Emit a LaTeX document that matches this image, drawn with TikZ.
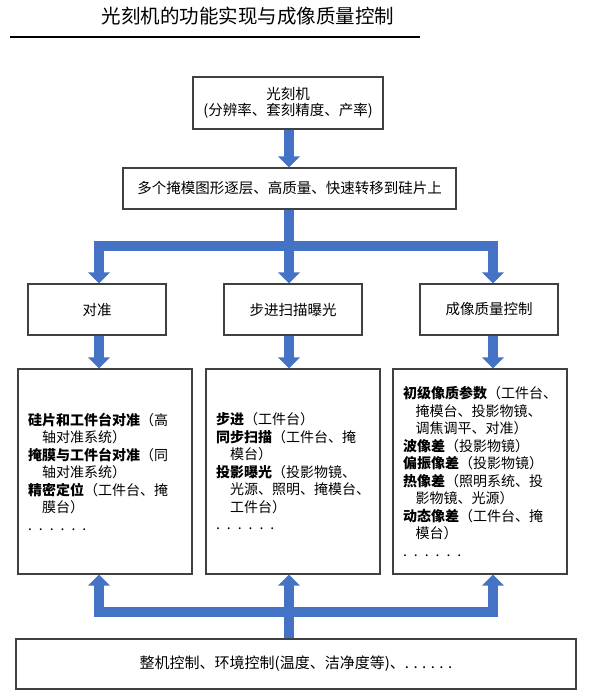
\documentclass[tikz,border=0pt]{standalone}
\usepackage{fontspec}
\setmainfont{Noto Sans CJK SC}
\usetikzlibrary{arrows.meta,calc}
\definecolor{arrowblue}{HTML}{4472C4}
\definecolor{boxline}{HTML}{404040}
\begin{document}
\begin{tikzpicture}[x=1pt,y=-1pt,
  box/.style={draw=boxline, line width=1.1pt, fill=white, inner sep=0pt,
    font=\fontsize{14.5}{16}\selectfont, align=center},
  listbox/.style={box, align=left, text width=154pt,
    font=\fontsize{14}{17.5}\selectfont},
  flow/.style={draw=arrowblue, line width=10pt,
    -{Triangle[width=21pt,length=11pt]}}
]
\useasboundingbox (0,0) rectangle (591,692);

% title
\node (title) at (248,16) {\fontsize{19.5}{21}\selectfont 光刻机的功能实现与成像质量控制};
\coordinate (rl) at (10,37);
\coordinate (rr) at (420,37);
\draw[line width=2pt] (rl) -- (rr);

% boxes
\node[box, minimum width=190pt, minimum height=52pt] (b1) at (288,103)
  {光刻机\\(分辨率、套刻精度、产率)};
\node[box, minimum width=333pt, minimum height=41pt] (b2) at (289.5,188.5)
  {多个掩模图形逐层、高质量、快速转移到硅片上};
\node[box, minimum width=138pt, minimum height=51pt] (c1) at (97,309.5) {对准};
\node[box, minimum width=138pt, minimum height=51pt] (c2) at (293,309.5) {步进扫描曝光};
\node[box, minimum width=138pt, minimum height=51pt] (c3) at (489,309.5) {成像质量控制};

\node[listbox, minimum width=174pt, minimum height=205pt] (d1) at (105,471.5)
  {\textbf{硅片和工件台对准}（高\\
   \hspace*{1em}轴对准系统）\\
   \textbf{掩膜与工件台对准}（同\\
   \hspace*{1em}轴对准系统）\\
   \textbf{精密定位}（工件台、掩\\
   \hspace*{1em}膜台）\\
   . . . . . .};
\node[listbox, minimum width=174pt, minimum height=205pt] (d2) at (293,471.5)
  {\textbf{步进}（工件台）\\
   \textbf{同步扫描}（工件台、掩\\
   \hspace*{1em}模台）\\
   \textbf{投影曝光}（投影物镜、\\
   \hspace*{1em}光源、照明、掩模台、\\
   \hspace*{1em}工件台）\\
   . . . . . .};
\node[listbox, minimum width=174pt, minimum height=205pt] (d3) at (480,471.5)
  {\textbf{初级像质参数}（工件台、\\
   \hspace*{0.9em}掩模台、投影物镜、\\
   \hspace*{0.9em}调焦调平、对准）\\
   \textbf{波像差}（投影物镜）\\
   \textbf{偏振像差}（投影物镜）\\
   \textbf{热像差}（照明系统、投\\
   \hspace*{0.9em}影物镜、光源）\\
   \textbf{动态像差}（工件台、掩\\
   \hspace*{0.9em}模台）\\
   . . . . . .};

\node[box, minimum width=560pt, minimum height=50pt, font=\fontsize{15}{16}\selectfont] (e) at (296,664)
  {整机控制、环境控制(温度、洁净度等)、. . . . . .};

% arrow x positions and junctions
\coordinate (xL) at (99,0);
\coordinate (xM) at (289,0);
\coordinate (xR) at (493,0);
\coordinate (j1) at (289,246);
\coordinate (j2) at (289,612);

% connectors
\draw[flow] (b1.south -| xM) -- (b2.north -| xM);
\draw[flow] (b2.south -| xM) -- (c2.north -| xM);
\draw[flow] (j1) -| (c1.north -| xL);
\draw[flow] (j1) -| (c3.north -| xR);

\draw[flow] (c1.south -| xL) -- (d1.north -| xL);
\draw[flow] (c2.south -| xM) -- (d2.north -| xM);
\draw[flow] (c3.south -| xR) -- (d3.north -| xR);

\draw[flow] (e.north -| xM) -- (d2.south -| xM);
\draw[flow] (j2) -| (d1.south -| xL);
\draw[flow] (j2) -| (d3.south -| xR);
\end{tikzpicture}
\end{document}
